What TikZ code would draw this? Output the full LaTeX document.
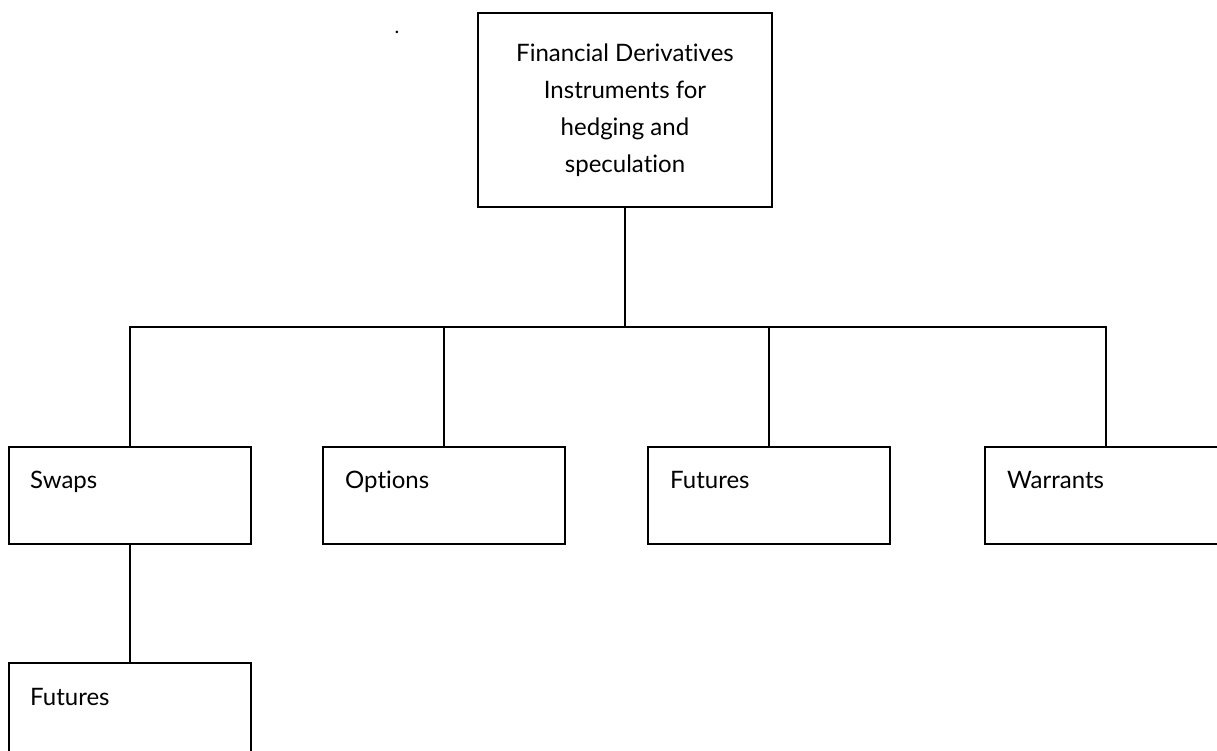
\documentclass[tikz,border=0pt]{standalone}
\usepackage{fontspec}
\setmainfont{Lato}[Ligatures=NoCommon]
\usetikzlibrary{calc}
\begin{document}
\begin{tikzpicture}[x=1pt,y=-1pt,
  box/.style={draw=black, line width=1.8pt, inner sep=0pt, anchor=north west,
              minimum width=242pt, minimum height=97pt},
  lbl/.style={anchor=base west, inner sep=0pt, font=\fontsize{24}{37}\selectfont},
  link/.style={draw=black, line width=1.8pt}]
  \useasboundingbox (0,0) rectangle (1217,751);
  \clip (0,0) rectangle (1217,751);

  % root of the tree
  \node[draw=black, line width=1.8pt, inner sep=0pt, minimum width=294pt,
        minimum height=194pt, align=center,
        font=\fontsize{24}{37}\selectfont] (root) at (625,110)
        {Financial Derivatives\\Instruments for\\hedging and\\speculation};
  \node[inner sep=0pt, font=\fontsize{20}{24}\selectfont] (dot) at (397,32) {.};

  % level one
  \node[box] (swaps) at (8,446) {};
  \node[box] (options) at (322,446) {};
  \node[box] (futures) at (647,446) {};
  \node[box] (warrants) at (984,446) {};
  % level two
  \node[box] (subfut) at (8,662) {};

  \node[lbl] (swapsT) at ($(swaps.north west)+(22,42)$) {Swaps};
  \node[lbl] (optionsT) at ($(options.north west)+(23,42)$) {Options};
  \node[lbl] (futuresT) at ($(futures.north west)+(23,42)$) {Futures};
  \node[lbl] (warrantsT) at ($(warrants.north west)+(23,42)$) {Warrants};
  \node[lbl] (subfutT) at ($(subfut.north west)+(22,43)$) {Futures};

  % connectors
  \coordinate (bus) at (0,327);
  \draw[link] (root.south) -- (root.south |- bus);
  \draw[link] (swaps.north) |- (warrants.north |- bus) -- (warrants.north);
  \draw[link] (options.north) -- (options.north |- bus);
  \draw[link] (futures.north) -- (futures.north |- bus);
  \draw[link] (swaps.south) -- (subfut.north);
\end{tikzpicture}
\end{document}
